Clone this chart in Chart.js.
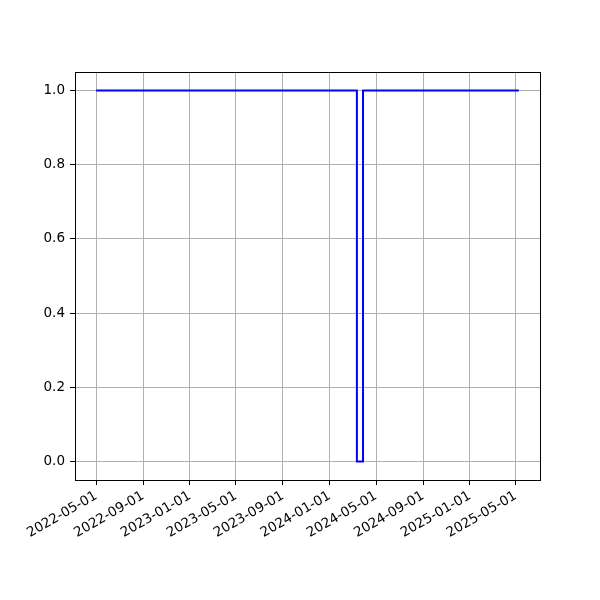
<!DOCTYPE html>
<html>
<head>
<meta charset="utf-8">
<script src="https://cdn.jsdelivr.net/npm/chart.js@4"></script>
<style>
  html, body { margin: 0; padding: 0; background: #fff; }
  #wrap { width: 600px; height: 600px; }
</style>
</head>
<body>
<div id="wrap"><canvas id="chart" width="600" height="600"></canvas></div>
<script>
// step points: value holds until the next date
const dates = ['2022-05-01', '2024-03-12', '2024-03-28', '2025-05-09'];
const values = [1, 0, 1, 1];
const xTickLabels = ['2022-05-01', '2022-09-01', '2023-01-01', '2023-05-01', '2023-09-01',
  '2024-01-01', '2024-05-01', '2024-09-01', '2025-01-01', '2025-05-01'];
const yTickValues = [0, 0.2, 0.4, 0.6, 0.8, 1.0];

const toMs = s => Date.parse(s + 'T00:00:00Z');
const fmt = ms => new Date(ms).toISOString().slice(0, 10);

const xs = dates.map(toMs);
const span = xs[xs.length - 1] - xs[0];
const xMin = xs[0] - span * 0.05;
const xMax = xs[xs.length - 1] + span * 0.05;

const boxPlugin = {
  id: 'box',
  afterDraw(chart) {
    const { ctx, chartArea: a } = chart;
    ctx.save();
    ctx.strokeStyle = '#000';
    ctx.lineWidth = 1;
    ctx.strokeRect(Math.round(a.left) + 0.5, Math.round(a.top) + 0.5,
      Math.round(a.right - a.left), Math.round(a.bottom - a.top));
    ctx.restore();
  }
};

Chart.defaults.font.family = 'DejaVu Sans';
Chart.defaults.font.size = 13.5;
Chart.defaults.color = '#000';

new Chart(document.getElementById('chart').getContext('2d'), {
  type: 'line',
  data: {
    datasets: [{
      data: xs.map((x, i) => ({ x: x, y: values[i] })),
      borderColor: '#0000ff',
      borderWidth: 2,
      stepped: true,
      pointRadius: 0,
      fill: false
    }]
  },
  options: {
    responsive: false,
    animation: false,
    layout: { padding: { top: 72, right: 60, left: 0, bottom: 0 } },
    plugins: { legend: { display: false }, tooltip: { enabled: false } },
    scales: {
      x: {
        type: 'linear',
        min: xMin,
        max: xMax,
        afterBuildTicks: s => { s.ticks = xTickLabels.map(t => ({ value: toMs(t) })); },
        afterFit: s => { s.height = 120; },
        ticks: {
          callback: v => fmt(v),
          minRotation: 30,
          maxRotation: 30,
          padding: 3,
          autoSkip: false
        },
        grid: { color: '#b0b0b0', lineWidth: 1, tickColor: '#000', tickLength: 5 },
        border: { color: '#000' }
      },
      y: {
        min: -0.05,
        max: 1.05,
        afterBuildTicks: s => { s.ticks = yTickValues.map(v => ({ value: v })); },
        afterFit: s => { s.width = 75; },
        ticks: { callback: v => v.toFixed(1), padding: 5 },
        grid: { color: '#b0b0b0', lineWidth: 1, tickColor: '#000', tickLength: 5 },
        border: { color: '#000' }
      }
    }
  },
  plugins: [boxPlugin]
});
</script>
</body>
</html>
